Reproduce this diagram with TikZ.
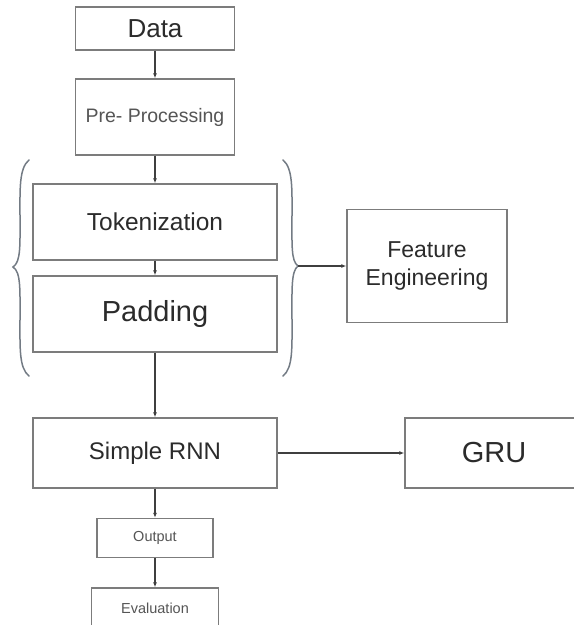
\documentclass[tikz,border=0pt]{standalone}
\usepackage{fontspec}
\setsansfont{Liberation Sans}
\usepackage{tikz}
\usetikzlibrary{arrows.meta,positioning}
\definecolor{BoxGray}{HTML}{7C7C7C}
\definecolor{LineGray}{HTML}{3F3F3F}
\definecolor{BraceGray}{HTML}{737B84}
\definecolor{TextDark}{HTML}{2B2B2B}
\definecolor{TextSoft}{HTML}{555555}
\tikzset{
  stage/.style={draw=BoxGray,line width=1.4pt,fill=white,inner sep=0pt,
    align=center,text=TextDark,font=\sffamily},
  flow/.style={-{Latex[length=5pt,width=4pt]},line width=1.1pt,draw=LineGray},
  curly/.style={draw=BraceGray,line width=1.5pt,line cap=round}
}
\newcommand{\fsz}[1]{\fontsize{#1}{#1}\selectfont}

\begin{document}
\begin{tikzpicture}[x=1pt,y=-1pt]
  \useasboundingbox (0,0) rectangle (574,625);
  \clip (0,0) rectangle (574,625);
  \node[stage,minimum width=159pt,minimum height=43pt,font=\sffamily\fsz{26}] (data) at (155,28.5) {Data};
  \node[stage,minimum width=159pt,minimum height=76pt,text=TextSoft,font=\sffamily\fsz{19.5}] (prep) at (155,117) {Pre- Processing};
  \node[stage,minimum width=244pt,minimum height=76pt,font=\sffamily\fsz{24.5}] (token) at (155,222) {Tokenization};
  \node[stage,minimum width=244pt,minimum height=76pt,font=\sffamily\fsz{29}] (pad) at (155,314) {Padding};
  \node[stage,minimum width=160pt,minimum height=113pt,font=\sffamily\fontsize{23}{28}\selectfont] (feat) at (427,266) {Feature\\Engineering};
  \node[stage,minimum width=244pt,minimum height=70pt,font=\sffamily\fsz{24}] (rnn) at (155,453) {Simple RNN};
  \node[stage,minimum width=178pt,minimum height=70pt,font=\sffamily\fsz{29}] (gru) at (494,453) {GRU};
  \node[stage,minimum width=116pt,minimum height=39pt,text=TextSoft,font=\sffamily\fsz{14.5}] (out) at (155,538) {Output};
  \node[stage,minimum width=127pt,minimum height=40pt,text=TextSoft,font=\sffamily\fsz{14.5}] (eval) at (155,608) {Evaluation};

  \coordinate (braceTip) at (298,266);
  \draw[curly] (29,160) .. controls (19,168) and (20,190) .. (20,215)
    .. controls (20,245) and (21,262) .. (13,267)
    .. controls (21,272) and (20,290) .. (20,320)
    .. controls (20,348) and (19,368) .. (29,376);
  \draw[curly] (283,160) .. controls (293,168) and (292,190) .. (292,215)
    .. controls (292,245) and (291,261) .. (braceTip)
    .. controls (291,271) and (292,290) .. (292,320)
    .. controls (292,348) and (293,368) .. (283,376);

  \draw[flow] (data) -- (prep);
  \draw[flow] (prep) -- (token);
  \draw[flow] (token) -- (pad);
  \draw[flow] (pad) -- (rnn);
  \draw[flow] (braceTip) -- (feat);
  \draw[flow] (rnn) -- (gru);
  \draw[flow] (rnn) -- (out);
  \draw[flow] (out) -- (eval);
\end{tikzpicture}
\end{document}
